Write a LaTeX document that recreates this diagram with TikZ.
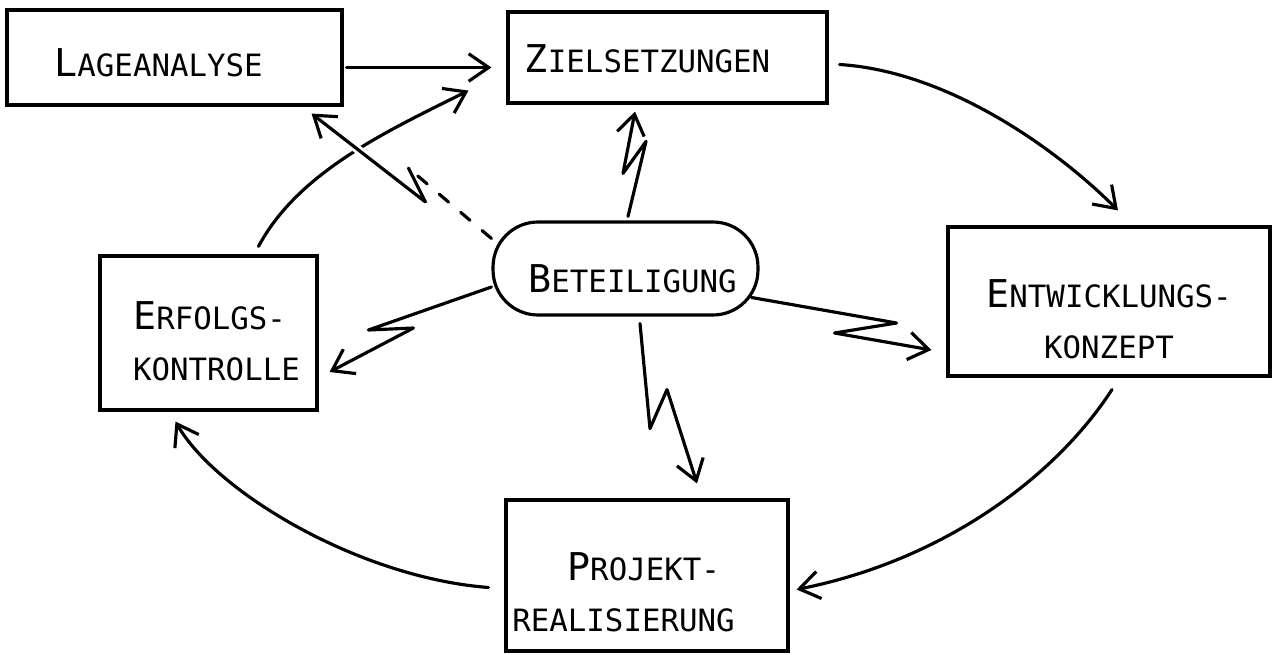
\documentclass[tikz,border=0pt]{standalone}
\usepackage{fontspec}
\newfontfamily\handfont{DejaVu Sans Mono}
\usetikzlibrary{arrows.meta,positioning,calc}
\newcommand\capt[2]{{\fontsize{21.8pt}{29pt}\selectfont #1}#2}
\newcommand\lift[1]{\rule{0pt}{#1}}

\begin{document}
\begin{tikzpicture}[x=0.02cm, y=-0.02cm,
  box/.style={draw, rectangle, line width=1.8pt, inner sep=1pt, align=center, font=\handfont\fontsize{17.5pt}{29pt}\selectfont},
  pill/.style={box, rounded corners=0.9cm},
  arr/.style={-{Straight Barb[length=4mm,width=5.5mm]}, line width=1.8pt, line cap=round, line join=round},
  dashedline/.style={line width=1.8pt, dash pattern=on 7pt off 9pt, line cap=round}
]
\useasboundingbox (0,0) rectangle (1275,655);

% boxes
\node[box, minimum width=6.7cm, minimum height=1.9cm] (lage) at (174.5,57.5) {\lift{22pt}\capt{L}{AGEANALYSE}\hspace*{0.64cm}};
\node[box, minimum width=6.38cm, minimum height=1.82cm] (ziel) at (667.5,57.5) {\lift{17.6pt}\capt{Z}{IELSETZUNGEN}\hspace*{0.8cm}};
\node[box, minimum width=6.44cm, minimum height=2.98cm] (entw) at (1109,301.5) {\lift{36.3pt}\capt{E}{NTWICKLUNGS-}\\KONZEPT};
\node[box, minimum width=5.64cm, minimum height=3.02cm] (proj) at (647,575.5) {\lift{35pt}\capt{P}{ROJEKT-}\hspace*{0.14cm}\\REALISIERUNG\hspace*{0.94cm}};
\node[box, align=left, minimum width=4.34cm, minimum height=3.08cm] (erfolg) at (208.5,333) {\hspace*{0.32cm}\lift{25pt}\capt{E}{RFOLGS-}\\\hspace*{0.32cm}KONTROLLE};
\node[pill, minimum width=5.3cm, minimum height=1.86cm] (bet) at (625.5,268.5) {\hspace*{0.28cm}\lift{27.8pt}\capt{B}{ETEILIGUNG}};

% cycle
\draw[arr] ($(lage.east)+(3,10)$) -- ($(ziel.west)+(-15,10)$);
\draw[arr] ($(ziel.east)+(11,7)$) .. controls +(110,7) and +(-60,-60) .. ($(entw.north)+(9,-15)$);
\draw[arr] ($(entw.south)+(3,12)$) .. controls +(-55,85) and +(150,-30) .. ($(proj.east)+(7,14)$);
\draw[arr] ($(proj.west)+(-16,12)$) .. controls +(-130,-10) and +(40,70) .. ($(erfolg.south)+(-33,10)$);
\draw[arr] ($(erfolg.north)+(50,-8)$) .. controls +(40,-75) and +(-80,40) .. ($(ziel.south west)+(-38,-14)$);

% Beteiligung
\draw[arr] ($(bet.north)+(2.5,-4)$) -- ++(18,-75) -- ++(-23,32) -- ($(ziel.south)+(-32.5,7)$);
\draw[arr] ($(bet.east)+(-8,29)$) -- ++(145,25.5) -- ++(-62,10) -- ($(entw.west)+(-15,48.5)$);
\draw[arr] ($(bet.west)+(0,18.5)$) -- ++(-123,43) -- ++(45,-2) -- ($(erfolg.east)+(11,39)$);
\draw[arr] ($(bet.south)+(14.5,7)$) -- ++(10,105) -- ++(17,-39) -- ($(proj.north)+(50,-15)$);

\coordinate (zigt) at ($(bet.west)+(-83,-100.5)$);
\coordinate (zigb) at ($(zigt)+(17,34)$);
\coordinate (lagetip) at ($(lage.south east)+(-32,7)$);
\draw[dashedline] ($(bet.west)+(0,-30)$) -- (zigt);
\draw[white, line width=5pt] ($(zigb)!0.5!(lagetip)$) -- ($(zigb)!0.72!(lagetip)$);
\draw[arr] (zigt) -- (zigb) -- (lagetip);
\end{tikzpicture}
\end{document}
